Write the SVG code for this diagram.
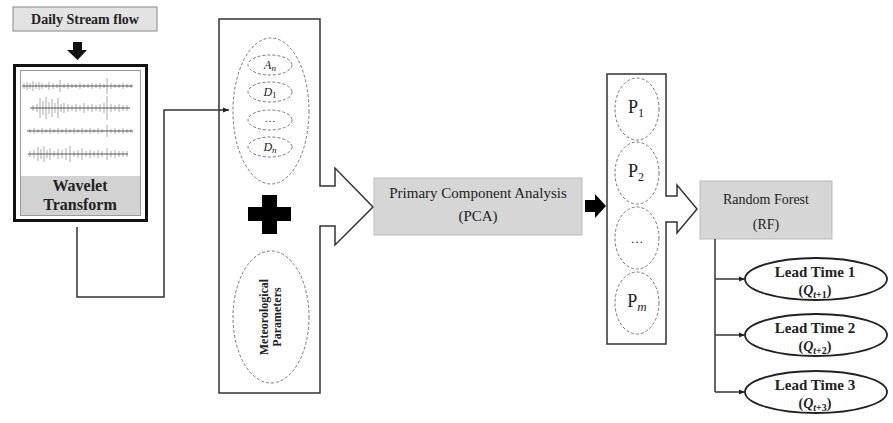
<svg xmlns="http://www.w3.org/2000/svg" width="893" height="423" viewBox="0 0 893 423">
<defs>
<style>
.serif{font-family:"Liberation Serif","Times New Roman",serif;fill:#222}
.b{font-weight:bold}
.box{fill:#fff;stroke:#333;stroke-width:1.5}
.dash{fill:none;stroke:#777;stroke-width:1;stroke-dasharray:3,2}
.line{fill:none;stroke:#333;stroke-width:1.5}
.sig{fill:none;stroke:#aaa;stroke-width:1}
.base{fill:none;stroke:#555;stroke-width:1.2}
</style>
<marker id="ah" viewBox="0 0 10 10" refX="10" refY="5" markerWidth="6" markerHeight="6" orient="auto" markerUnits="userSpaceOnUse">
<path d="M0,1 L10,5 L0,9 z" fill="#222"/>
</marker>
</defs>
<rect width="893" height="423" fill="#fff"/>

<g id="daily-stream">
<rect x="13" y="7" width="144" height="24" fill="#e3e3e3" stroke="#888" stroke-width="1"/>
<text class="serif b" x="85" y="24" font-size="14" text-anchor="middle">Daily Stream flow</text>
<path d="M73,42 H82 V50 H87 L77.5,60 L67,50 H73 Z" fill="#111"/>
</g>

<g id="wavelet">
<rect x="14.5" y="65.5" width="132" height="155" fill="#fff" stroke="#111" stroke-width="3"/>
<rect x="20.5" y="70.5" width="120" height="145" fill="#fff" stroke="#999" stroke-width="1"/>
<rect x="21" y="176" width="119" height="39" fill="#d2d2d2"/>
<path class="sig" d="M24,83V89M27,82V90M30,83V89M33,81V91M36,83V89M39,82V90M42,83V89M46,84V88M49,82V90M53,83V89M57,84V88M60,80V92M64,84V88M68,83V89M72,84V88M76,84V88M80,83V89M84,84V88M88,84V88M92,83V89M96,84V88M100,83V89M104,84V88M107,78V94M111,83V89M115,84V88M119,84V88M123,83V89M127,84V88M131,84V88"/>
<path class="base" d="M22,86H133"/>
<path class="sig" d="M33,105V111M37,104V112M40,98V118M43,101V115M46,97V119M49,102V114M52,99V117M55,103V113M58,98V118M61,104V112M64,103V113M68,104V112M72,105V111M76,104V112M80,105V111M84,103V113M88,105V111M92,104V112M96,105V111M100,104V112M104,103V113M107,96V120M111,104V112M115,105V111M119,104V112M123,105V111M127,105V111"/>
<path class="base" d="M30,108H130"/>
<path class="sig" d="M30,129V133M34,128V134M38,129V133M42,128V134M46,129V133M50,128V134M54,129V133M58,128V134M62,129V133M66,128V134M70,129V133M74,128V134M78,129V133M82,128V134M86,129V133M90,128V134M94,129V133M98,128V134M102,129V133M107,125V137M111,129V133M115,128V134M119,129V133M123,128V134M127,129V133M131,129V133"/>
<path class="base" d="M27,131H133"/>
<path class="sig" d="M30,151V157M34,150V158M38,147V161M41,149V159M44,146V162M47,150V158M50,148V160M54,151V157M58,149V159M62,150V158M66,148V160M70,146V162M74,151V157M78,150V158M82,148V160M86,151V157M90,150V158M94,151V157M98,150V158M102,151V157M107,148V160M111,151V157M115,150V158M119,151V157M123,151V157M127,151V157"/>
<path class="base" d="M28,154H128"/>
<text class="serif b" x="80" y="191" font-size="16" text-anchor="middle">Wavelet</text>
<text class="serif b" x="80" y="210" font-size="16" text-anchor="middle">Transform</text>
</g>

<g id="inputs">
<path class="box" d="M219,19 H320 V186 H335 V168 L373,207 L335,245 V226 H320 V393 H219 Z"/>
<ellipse class="dash" cx="271" cy="111" rx="38" ry="73"/>
<ellipse class="dash" cx="270" cy="65" rx="22" ry="10"/>
<ellipse class="dash" cx="270" cy="92" rx="22" ry="10"/>
<ellipse class="dash" cx="270" cy="120" rx="22" ry="10"/>
<ellipse class="dash" cx="270" cy="147" rx="22" ry="10"/>
<text class="serif" x="270" y="69" font-size="12" font-style="italic" text-anchor="middle">A<tspan font-size="9" dy="2">n</tspan></text>
<text class="serif" x="270" y="96" font-size="12" font-style="italic" text-anchor="middle">D<tspan font-size="9" font-style="normal" dy="2">1</tspan></text>
<text class="serif" x="270" y="122" font-size="11" text-anchor="middle" fill="#666">…</text>
<text class="serif" x="270" y="151" font-size="12" font-style="italic" text-anchor="middle">D<tspan font-size="9" dy="2">n</tspan></text>
<path d="M262,195 H277 V207 H291 V221 H277 V234 H262 V221 H248 V207 H262 Z" fill="#000"/>
<ellipse class="dash" cx="271" cy="317" rx="38" ry="66"/>
<g transform="translate(271,317) rotate(-90)">
<text class="serif b" x="0" y="-3" font-size="12" text-anchor="middle">Meteorological</text>
<text class="serif b" x="0" y="10" font-size="12" text-anchor="middle">Parameters</text>
</g>
</g>

<g id="pca">
<rect x="374" y="178" width="208" height="57" fill="#d6d6d6" stroke="#bbb" stroke-width="1"/>
<text class="serif" x="478" y="198" font-size="15" text-anchor="middle">Primary Component Analysis</text>
<text class="serif" x="478" y="221" font-size="15" text-anchor="middle">(PCA)</text>
<path d="M585,200 H595 V194 L606,206 L595,218 V212 H585 Z" fill="#000"/>
</g>

<g id="components">
<path class="box" d="M607,74 H666 V196 H677 V185 L697,209 L677,233 V222 H666 V344 H607 Z"/>
<ellipse class="dash" cx="637" cy="109" rx="22" ry="31"/>
<ellipse class="dash" cx="637" cy="173" rx="22" ry="31"/>
<ellipse class="dash" cx="637" cy="238" rx="22" ry="31"/>
<ellipse class="dash" cx="637" cy="303" rx="22" ry="31"/>
<text class="serif" x="636" y="113" font-size="18" text-anchor="middle">P<tspan font-size="12" dy="4">1</tspan></text>
<text class="serif" x="636" y="177" font-size="18" text-anchor="middle">P<tspan font-size="12" dy="4">2</tspan></text>
<text class="serif" x="637" y="243" font-size="13" text-anchor="middle" fill="#555">…</text>
<text class="serif" x="637" y="307" font-size="18" text-anchor="middle">P<tspan font-size="13" font-style="italic" dy="4">m</tspan></text>
</g>

<g id="rf">
<rect x="700" y="181" width="132" height="58" fill="#d6d6d6" stroke="#bbb" stroke-width="1"/>
<text class="serif" x="766" y="204" font-size="14" text-anchor="middle">Random Forest</text>
<text class="serif" x="766" y="229" font-size="14" text-anchor="middle">(RF)</text>
</g>

<g id="lead1">
<ellipse cx="816" cy="279" rx="71" ry="21" fill="#fff" stroke="#222" stroke-width="1.8"/>
<text class="serif b" x="815" y="277" font-size="15" text-anchor="middle">Lead Time 1</text>
<text class="serif b" x="815" y="295" font-size="14" text-anchor="middle">(<tspan font-style="italic">Q</tspan><tspan font-size="10" font-style="italic" dy="3">t</tspan><tspan font-size="10" dy="0">+1</tspan><tspan dy="-3">)</tspan></text>
</g>
<g id="lead2">
<ellipse cx="816" cy="335" rx="71" ry="21" fill="#fff" stroke="#222" stroke-width="1.8"/>
<text class="serif b" x="815" y="333" font-size="15" text-anchor="middle">Lead Time 2</text>
<text class="serif b" x="815" y="351" font-size="14" text-anchor="middle">(<tspan font-style="italic">Q</tspan><tspan font-size="10" font-style="italic" dy="3">t</tspan><tspan font-size="10" dy="0">+2</tspan><tspan dy="-3">)</tspan></text>
</g>
<g id="lead3">
<ellipse cx="816" cy="392" rx="71" ry="21" fill="#fff" stroke="#222" stroke-width="1.8"/>
<text class="serif b" x="815" y="390" font-size="15" text-anchor="middle">Lead Time 3</text>
<text class="serif b" x="815" y="408" font-size="14" text-anchor="middle">(<tspan font-style="italic">Q</tspan><tspan font-size="10" font-style="italic" dy="3">t</tspan><tspan font-size="10" dy="0">+3</tspan><tspan dy="-3">)</tspan></text>
</g>

<g id="connectors">
<path class="line" d="M77,227 V297 H164 V110 H229" marker-end="url(#ah)"/>
<path class="line" d="M715,239 V392"/>
<path class="line" d="M715,279 H745" marker-end="url(#ah)"/>
<path class="line" d="M715,335 H745" marker-end="url(#ah)"/>
<path class="line" d="M715,392 H745" marker-end="url(#ah)"/>
</g>
</svg>
